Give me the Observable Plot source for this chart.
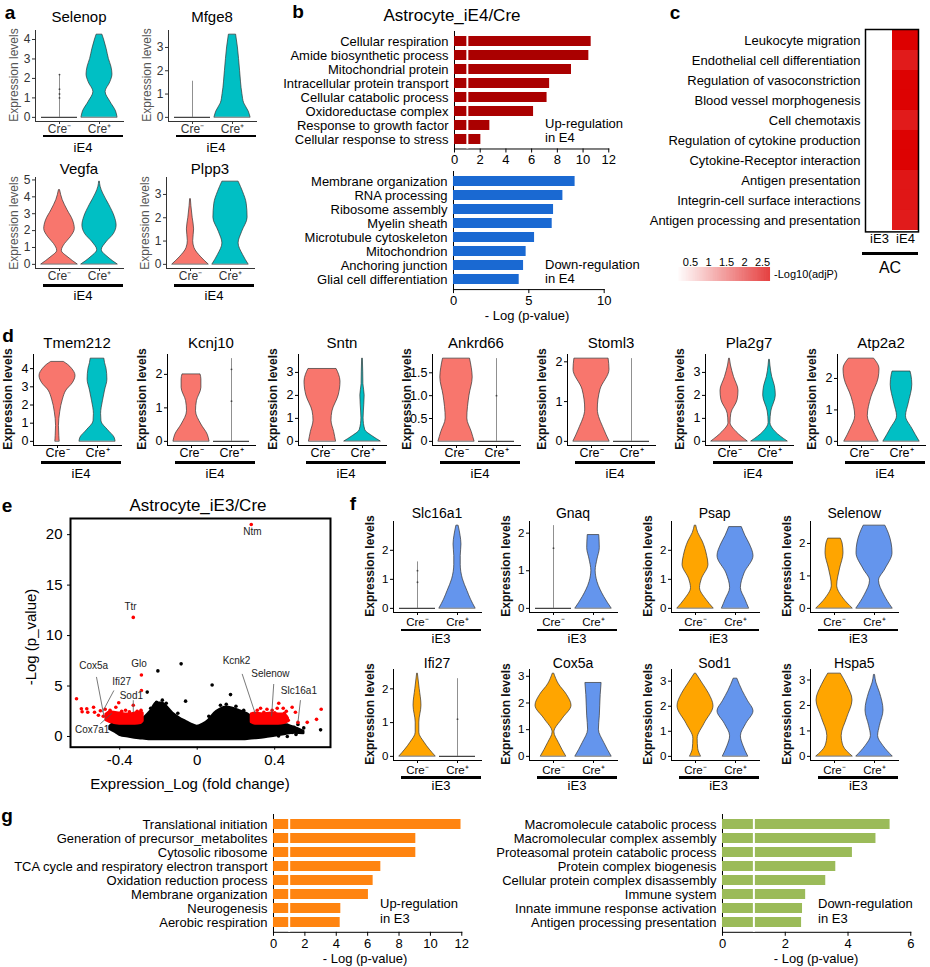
<!DOCTYPE html>
<html><head><meta charset="utf-8">
<script src="https://cdn.jsdelivr.net/npm/d3@7"></script>
<script src="https://cdn.jsdelivr.net/npm/@observablehq/plot@0.6"></script>
<style>
body{margin:0;background:#fff;}
#root{position:relative;width:930px;height:967px;overflow:hidden;font-family:"Liberation Sans",Arial,Helvetica,sans-serif;}
.t{position:absolute;white-space:pre;line-height:1;}
</style></head>
<body><div id="root"></div>
<script>
// ================= DATA =================
// Violin profiles: [expression level, relative half-width]; {top, dots} = all-zero group (line up to max)
const creTicks = ["Cre⁻", "Cre⁺"];
// panel a (iE4)
const Selenop_neg = {top: 2.2, dots: [1.0, 1.2, 1.45, 2.2]};
const Selenop_pos = [[0,1],[0.3,0.92],[0.8,0.6],[1.3,0.34],[1.8,0.6],[2.2,0.72],[2.6,0.66],[3.0,0.52],[3.5,0.4],[4.0,0.25],[4.25,0.16]];
const Mfge8_neg = {top: 1.55, dots: []};
const Mfge8_pos = [[0,1],[0.25,0.9],[0.6,0.65],[1.0,0.55],[2.0,0.42],[3.0,0.3],[3.55,0.2]];
const Vegfa_neg = [[0,1],[0.4,0.5],[0.8,0.13],[1.2,0.3],[1.6,0.62],[2.1,0.85],[2.6,0.75],[3.2,0.45],[3.8,0.18],[4.4,0.03]];
const Vegfa_pos = [[0,1],[0.4,0.5],[0.85,0.13],[1.3,0.38],[1.8,0.8],[2.3,0.95],[2.8,0.85],[3.5,0.55],[4.2,0.2],[4.6,0.06],[4.9,0.02]];
const Plpp3_neg = [[0,1],[0.3,0.6],[0.7,0.22],[1.0,0.15],[1.5,0.2],[2.0,0.12],[2.5,0.05],[2.8,0.02]];
const Plpp3_pos = [[0,1],[0.4,0.7],[0.9,0.45],[1.4,0.65],[2.0,0.95],[2.6,0.9],[3.1,0.7],[3.55,0.45]];
// panel d (iE4)
const Tmem212_neg = [[0,0.12],[0.3,0.1],[0.85,0.08],[1.6,0.15],[2.3,0.3],[2.8,0.5],[3.2,0.85],[3.6,1.0],[4.0,0.8],[4.2,0.6],[4.37,0.35]];
const Tmem212_pos = [[0,1],[0.2,0.95],[0.6,0.6],[1.1,0.22],[1.5,0.2],[2.2,0.3],[2.8,0.42],[3.4,0.55],[4.0,0.5],[4.3,0.42],[4.55,0.38]];
const Kcnj10_neg = [[0,1],[0.2,0.9],[0.5,0.55],[0.9,0.25],[1.2,0.3],[1.6,0.55],[1.85,0.55],[2.0,0.5]];
const Kcnj10_pos = {top: 2.47, dots: [1.2, 2.15]};
const Sntn_neg = [[0,0.75],[0.4,0.65],[0.9,0.5],[1.3,0.55],[2.0,0.9],[2.6,1.0],[2.9,0.92],[3.15,0.78]];
const Sntn_pos = [[0,1],[0.2,0.6],[0.5,0.15],[1.0,0.06],[1.6,0.1],[2.0,0.12],[2.5,0.05],[3.0,0.04],[3.6,0.02]];
const Ankrd66_neg = [[0,1],[0.2,0.85],[0.5,0.6],[1.0,0.72],[1.4,0.9],[1.6,0.85],[1.81,0.75]];
const Ankrd66_pos = {top: 1.81, dots: [1.0]};
const Stoml3_neg = [[0,1],[0.3,0.7],[0.8,0.35],[1.3,0.5],[1.8,1.0],[2.08,0.95]];
const Stoml3_pos = {top: 2.08, dots: []};
const Pla2g7_neg = [[0,1],[0.4,0.4],[0.8,0.06],[1.2,0.1],[1.8,0.45],[2.2,0.5],[2.8,0.25],[3.3,0.08],[3.6,0.02]];
const Pla2g7_pos = [[0,1],[0.4,0.35],[0.8,0.05],[1.3,0.1],[2.0,0.35],[2.4,0.3],[2.8,0.15],[3.3,0.05],[3.55,0.02]];
const Atp2a2_neg = [[0,0.95],[0.4,0.6],[0.8,0.35],[1.4,0.55],[2.0,0.95],[2.3,1.0],[2.63,0.7]];
const Atp2a2_pos = [[0,1],[0.4,0.6],[0.8,0.25],[1.2,0.4],[1.8,0.6],[2.1,0.55],[2.22,0.5]];
// panel f (iE3)
const Slc16a1_neg = {top: 1.6, dots: [0.9, 1.3]};
const Slc16a1_pos = [[0,1],[0.3,0.75],[0.6,0.55],[1.0,0.3],[1.5,0.18],[1.8,0.18],[2.2,0.22],[2.5,0.17],[2.85,0.06]];
const Gnaq_neg = {top: 2.2, dots: [1.6]};
const Gnaq_pos = [[0,1],[0.3,0.6],[0.7,0.22],[1.0,0.12],[1.3,0.22],[1.6,0.35],[1.95,0.32]];
const Psap_neg = [[0,1],[0.3,0.6],[0.7,0.25],[1.0,0.35],[1.5,0.72],[1.8,0.65],[2.3,0.4],[2.6,0.15],[2.85,0.04]];
const Psap_pos = [[0,0.75],[0.3,0.55],[0.7,0.3],[1.2,0.5],[1.8,1.0],[2.2,0.8],[2.5,0.55],[2.8,0.35]];
const Selenow_neg = [[0,1],[0.3,0.5],[0.7,0.15],[1.2,0.3],[1.7,0.5],[2.0,0.45],[2.15,0.35]];
const Selenow_pos = [[0,1],[0.4,0.55],[0.85,0.25],[1.2,0.6],[1.7,1.0],[2.0,0.95],[2.3,0.8],[2.55,0.6]];
const Ifi27_neg = [[0,1],[0.4,0.4],[0.7,0.1],[1.0,0.1],[1.5,0.22],[2.0,0.12],[2.45,0.02]];
const Ifi27_pos = {top: 2.3, dots: [1.1]};
const Cox5a_neg = [[0,0.7],[0.5,0.3],[0.9,0.05],[1.4,0.5],[1.9,1.0],[2.3,0.75],[2.7,0.3],[3.1,0.04]];
const Cox5a_pos = [[0,1],[0.5,0.6],[1.0,0.3],[1.5,0.35],[2.3,0.4],[2.75,0.45]];
const Sod1_neg = [[0,0.3],[0.3,0.15],[0.7,0.12],[1.3,0.5],[2.0,1.0],[2.5,0.75],[2.9,0.4],[3.3,0.04]];
const Sod1_pos = [[0,0.7],[0.4,0.45],[0.8,0.3],[1.3,0.6],[1.8,1.0],[2.2,0.7],[2.6,0.4],[3.1,0.1]];
const Hspa5_neg = [[0,1],[0.4,0.5],[0.8,0.4],[1.5,0.7],[2.2,1.0],[2.8,0.7],[3.25,0.35]];
const Hspa5_pos = [[0,1],[0.4,0.5],[0.8,0.2],[1.2,0.3],[1.8,0.5],[2.5,0.3],[2.9,0.1],[3.2,0.03]];

// panel b
const upE4Terms = ["Cellular respiration","Amide biosynthetic process","Mitochondrial protein","Intracellular protein transport","Cellular catabolic process","Oxidoreductase complex","Response to growth factor","Cellular response to stress"];
const upE4Vals = [10.63,10.45,9.1,7.4,7.2,6.15,2.75,2.05];
const downE4Terms = ["Membrane organization","RNA processing","Ribosome assembly","Myelin sheath","Microtubule cytoskeleton","Mitochondrion","Anchoring junction","Glial cell differentiation"];
const downE4Vals = [8.07,7.26,6.64,6.55,5.38,4.82,4.65,4.36];
// panel c
const heatTerms = ["Leukocyte migration","Endothelial cell differentiation","Regulation of vasoconstriction","Blood vessel morphogenesis","Cell chemotaxis","Regulation of cytokine production","Cytokine-Receptor interaction","Antigen presentation","Integrin-cell surface interactions","Antigen processing and presentation"];
const heatCols = ["iE3","iE4"];
const heatE3 = [0.05,0.08,0.05,0.06,0.08,0.05,0.06,0.1,0.08,0.1];
const heatE4 = [2.72,2.45,2.7,2.7,2.45,2.7,2.7,2.5,2.5,2.45];
const heatTicks = [0.5,1,1.5,2,2.5];
// panel e (volcano)
const volEnvX   = [-0.45,-0.42,-0.40,-0.35,-0.30,-0.27,-0.24,-0.21,-0.18,-0.15,-0.12,-0.09,-0.06,-0.03,0,0.03,0.06,0.09,0.12,0.15,0.18,0.21,0.24,0.27,0.30,0.35,0.40,0.45,0.50,0.55];
const volEnvTop = [1.0,1.3,1.3,1.3,1.4,1.9,2.5,3.3,3.3,2.8,2.2,1.8,1.5,1.2,1.0,1.2,1.6,2.3,2.7,2.9,2.8,2.6,2.4,2.1,1.3,1.3,1.3,1.2,0.9,0.5];
const volEnvBot = [0.7,0.4,0.15,-0.05,-0.2,-0.25,-0.3,-0.3,-0.3,-0.3,-0.3,-0.3,-0.3,-0.3,-0.3,-0.3,-0.3,-0.3,-0.3,-0.3,-0.3,-0.3,-0.3,-0.25,-0.2,-0.1,0.05,0.2,0.35,0.3];
const volRedLX   = [-0.47,-0.44,-0.40,-0.36,-0.32,-0.29,-0.28];
const volRedLBot = [1.6,1.35,1.25,1.25,1.25,1.3,1.5];
const volRedLTop = [2.2,2.4,2.3,2.2,2.3,2.4,2.3];
const volRedRX   = [0.28,0.30,0.34,0.38,0.42,0.45,0.47];
const volRedRBot = [1.4,1.25,1.25,1.25,1.25,1.3,1.5];
const volRedRTop = [2.2,2.3,2.2,2.3,2.2,2.2,1.8];
const volRedX = [-0.623,-0.598,-0.594,-0.57,-0.565,-0.535,-0.53,-0.51,-0.5,-0.485,-0.475,-0.46,-0.45,-0.44,-0.42,-0.405,-0.39,-0.37,-0.35,-0.33,-0.31,-0.29,-0.288,-0.288,-0.33,0.279,0.292,0.31,0.327,0.344,0.36,0.387,0.40,0.413,0.421,0.43,0.444,0.45,0.46,0.47,0.49,0.507,0.52,0.568,0.616,0.64];
const volRedY = [3.74,2.75,2.45,2.75,2.4,2.9,2.4,2.1,2.55,2.0,2.7,2.35,2.6,2.0,2.9,3.35,2.5,2.6,2.45,3.1,2.5,2.6,4.56,6.1,11.8,21.0,2.25,2.6,2.8,2.4,2.7,2.6,2.35,2.8,3.3,2.0,2.8,2.3,2.5,1.6,2.9,2.4,1.4,1.4,1.7,2.7];
const volBlackX = [-0.083,-0.203,0.077,-0.258,-0.06,0.172,-0.21,-0.18,-0.16,0.12,0.15,0.2,0.465,0.5,0.52,0.55,0.637,0.465,0.49,0.51,0.42,-0.44,-0.43,-0.24,-0.1,0.06,0.24];
const volBlackY = [7.2,6.5,5.1,4.4,3.5,4.15,3.4,3.6,3.3,3.1,3.2,3.0,1.1,0.9,1.2,0.85,0.66,0.0,0.4,0.2,0.05,1.1,0.8,2.8,2.3,2.0,2.6];
const volLabels = ["Ntm","Ttr","Glo","Cox5a","Ifi27","Sod1","Cox7a1","Kcnk2","Selenow","Slc16a1"];
const volLabelX = [0.285,-0.344,-0.30,-0.534,-0.39,-0.34,-0.542,0.203,0.378,0.525];
const volLabelY = [20.3,12.9,7.2,7.0,5.4,4.07,0.66,7.5,6.2,4.56];
const volLinkX1 = [-0.52,-0.43,-0.33,-0.50,0.232,0.395,0.533];
const volLinkY1 = [5.9,4.56,3.6,1.26,6.2,5.2,3.6];
const volLinkX2 = [-0.48,-0.49,-0.33,-0.44,0.30,0.384,0.52];
const volLinkY2 = [1.9,2.4,2.4,2.3,2.25,2.0,1.4];
const volXTicks = [-0.4,0,0.4];
const volYTicks = [0,5,10,15,20];
// panel g
const upE3Terms = ["Translational initiation","Generation of precursor_metabolites","Cytosolic ribosome","TCA cycle and respiratory electron transport","Oxidation reduction process","Membrane organization","Neurogenesis","Aerobic respiration"];
const upE3Vals = [11.95,9.07,9.07,6.84,6.35,6.05,4.29,4.25];
const downE3Terms = ["Macromolecule catabolic process","Macromolecular complex assembly","Proteasomal protein catabolic process","Protein complex biogenesis","Cellular protein complex disassembly","Immune system","Innate immune response activation","Antigen processing presentation"];
const downE3Vals = [5.34,4.89,4.14,3.61,3.29,2.65,2.55,2.52];

// ================= HELPERS =================
const FONT = '"Liberation Sans", Arial, Helvetica, sans-serif';
const SALMON = "#F8766D", TEAL = "#00BFC4", ORANGE = "#FFA500", CBLUE = "#6495ED";
const root = document.getElementById("root");
function put(svg, left, top) {
  svg.style.position = "absolute"; svg.style.left = left + "px"; svg.style.top = top + "px";
  root.appendChild(svg);
}
function txt(s, x, y, o = {}) {
  const d = document.createElement("div");
  d.className = "t"; d.textContent = s;
  d.style.fontSize = (o.size || 12) + "px";
  if (o.weight) d.style.fontWeight = o.weight;
  d.style.color = o.color || "#000";
  const ax = o.anchor === "start" ? "0%" : o.anchor === "end" ? "-100%" : "-50%";
  d.style.left = x + "px"; d.style.top = y + "px";
  d.style.transform = `translate(${ax},-50%)` + (o.rotate ? ` rotate(${o.rotate}deg)` : "");
  root.appendChild(d);
}
function hline(x1, x2, y, w) {
  const d = document.createElement("div");
  d.style.cssText = `position:absolute;left:${x1}px;top:${y - w / 2}px;width:${x2 - x1}px;height:${w}px;background:#000`;
  root.appendChild(d);
}
const baseStyle = (size, color) => ({fontFamily: FONT, fontSize: size + "px", color: color || "#000", background: "transparent", overflow: "visible"});

// ---------- violin ----------
const VW = 88, VH = 91;
const isFlat = p => !Array.isArray(p);
const topOf = p => isFlat(p) ? p.top : p[p.length - 1][0];
function violin(gene, neg, pos, ticks, c, fmt) {
  const max = Math.max(topOf(neg), topOf(pos));
  const bottomPx = c.zeroY + VH * 0.05 / 1.1;
  const topPx = bottomPx - VH;
  const ML = 24, MR = 4, MT = 4, MB = 26;
  const marks = [];
  [[neg, 1, c.cols[0]], [pos, 2, c.cols[1]]].forEach(([p, cx, col]) => {
    if (isFlat(p)) {
      marks.push(Plot.ruleX([cx], {x: () => cx, y1: () => 0, y2: () => p.top, stroke: "#444", strokeWidth: 0.6}));
      if (p.dots.length) marks.push(Plot.dot(p.dots, {x: () => cx, y: d => d, r: 0.9, fill: "#444"}));
      marks.push(Plot.ruleY([0], {y: () => 0, x1: () => cx - 0.45, x2: () => cx + 0.45, stroke: "#444", strokeWidth: 1.3}));
    } else {
      marks.push(Plot.areaX(p, {y: d => d[0], x1: d => cx - 0.45 * d[1], x2: d => cx + 0.45 * d[1],
        fill: col, stroke: "#333", strokeWidth: 0.7, curve: "monotone-y"}));
    }
  });
  const svg = Plot.plot({
    width: ML + VW + MR, height: MT + VH + MB,
    marginLeft: ML, marginRight: MR, marginTop: MT, marginBottom: MB,
    style: baseStyle(c.tickSize, c.tickColor),
    x: {domain: [0.4, 2.6], ticks: [1, 2], tickFormat: d => creTicks[d - 1], tickSize: 3, tickPadding: c.xPad, line: true, label: null},
    y: {domain: [-0.05 * max, 1.05 * max], ticks, tickFormat: fmt || (d => String(d)), tickSize: 3, tickPadding: 2, line: true, label: null},
    marks
  });
  put(svg, c.axisX - ML, topPx - MT);
  txt(gene, c.axisX + VW / 2, c.titleY, {size: c.titleSize});
  txt("Expression levels", c.axisX - c.ylOff, (topPx + bottomPx) / 2, {rotate: -90, size: 12, weight: c.ylWeight, color: c.ylColor});
  hline(c.axisX + 8, c.axisX + VW, c.ulY, 2.5);
  txt(c.grp, c.axisX + 8 + (VW - 8) / 2, c.grpY, {size: 13});
}

// ---------- bars ----------
function bars(terms, vals, color, o) {
  const data = terms.map((t, i) => ({term: t, v: vals[i]}));
  const W = o.x1 - o.x0, H = o.bottom - o.top;
  const ML = o.ml, MR = 12, MT = 2, MB = 28;
  const marks = [Plot.barX(data, {y: "term", x: "v", fill: color})];
  if (o.thresh != null) marks.push(Plot.ruleX([o.thresh], {stroke: "white", strokeWidth: 2}));
  const svg = Plot.plot({
    width: ML + W + MR, height: MT + H + MB,
    marginLeft: ML, marginRight: MR, marginTop: MT, marginBottom: MB,
    style: baseStyle(13),
    x: {domain: [0, o.max], ticks: o.ticks, tickFormat: d => String(d), tickSize: 4, tickPadding: 2, line: true, label: null},
    y: {domain: terms, padding: 0.26, tickSize: 0, tickPadding: 6, line: true, label: null},
    marks
  });
  put(svg, o.x0 - ML, o.top - MT);
}

// ================= PANEL LETTERS =================
[["a",10,12],["b",298,11],["c",675,12],["d",8,335],["e",7,505],["f",353,503],["g",7,815]]
  .forEach(([s,x,y]) => txt(s, x, y, {size: 19, weight: "bold"}));

// ================= PANEL a =================
const cfgA = {cols: [SALMON, TEAL], tickSize: 12, tickColor: "#333", xPad: 0, titleSize: 15, ylOff: 21, ylWeight: "normal", ylColor: "#555", grp: "iE4"};
violin("Selenop", Selenop_neg, Selenop_pos, [0,1,2,3,4], {...cfgA, axisX: 35, zeroY: 116.7, titleY: 16, ulY: 136, grpY: 146.7});
violin("Mfge8", Mfge8_neg, Mfge8_pos, [0,1,2,3], {...cfgA, axisX: 168, zeroY: 116.7, titleY: 16, ulY: 136, grpY: 146.7});
violin("Vegfa", Vegfa_neg, Vegfa_pos, [0,1,2,3,4,5], {...cfgA, axisX: 35, zeroY: 264, titleY: 168.3, ulY: 285.7, grpY: 295});
violin("Plpp3", Plpp3_neg, Plpp3_pos, [0,1,2,3], {...cfgA, axisX: 166, zeroY: 264, titleY: 168.3, ulY: 285.7, grpY: 295});

// ================= PANEL b =================
txt("Astrocyte_iE4/Cre", 452, 15, {size: 17});
bars(upE4Terms, upE4Vals, "#AA0000", {x0: 454, x1: 608.3, top: 31, bottom: 148.5, ml: 200, max: 12, ticks: [0,2,4,6,8,10,12], thresh: 1});
bars(downE4Terms, downE4Vals, "#1A69D2", {x0: 453.3, x1: 604, top: 170.9, bottom: 289, ml: 200, max: 10, ticks: [0,5,10]});
txt("Up-regulation", 545, 123, {size: 13, anchor: "start"});
txt("in E4", 545, 137, {size: 13, anchor: "start"});
txt("Down-regulation", 545, 264, {size: 13, anchor: "start"});
txt("in E4", 545, 278, {size: 13, anchor: "start"});
txt("- Log (p-value)", 527, 315, {size: 13});

// ================= PANEL c =================
const heatColor = {type: "linear", domain: [0.14, 2.72], range: ["#ffffff", "#dd0000"], clamp: true};
{
  const hData = heatTerms.flatMap((t, i) => [{t, c: heatCols[0], v: heatE3[i]}, {t, c: heatCols[1], v: heatE4[i]}]);
  const ML = 245, MT = 2, MB = 22, MR = 4, W = 53, H = 202.4;
  const svg = Plot.plot({
    width: ML + W + MR, height: MT + H + MB, marginLeft: ML, marginRight: MR, marginTop: MT, marginBottom: MB,
    style: baseStyle(13),
    x: {domain: heatCols, padding: 0, tickSize: 0, tickPadding: 2, label: null},
    y: {domain: heatTerms, padding: 0, tickSize: 0, tickPadding: 5, label: null},
    color: heatColor,
    marks: [Plot.cell(hData, {x: "c", y: "t", fill: "v"}), Plot.frame({stroke: "black", strokeWidth: 1.5})]
  });
  put(svg, 865 - ML, 29.3 - MT);
  hline(862, 918, 253, 3);
  txt("AC", 890, 268, {size: 16});
  // colour bar
  const steps = d3.range(0.14, 2.72, 0.01);
  const cb = Plot.plot({
    width: 97, height: 32, marginLeft: 2, marginRight: 2, marginTop: 16, marginBottom: 2,
    style: baseStyle(11),
    x: {domain: [0.14, 2.72], axis: "top", ticks: heatTicks, tickFormat: d => String(d), tickSize: 0, tickPadding: 2, label: null},
    color: heatColor,
    marks: [Plot.barX(steps, {x1: d => d, x2: d => d + 0.011, fill: d => d})]
  });
  put(cb, 675, 251);
  txt("-Log10(adjP)", 774, 274, {size: 11, anchor: "start"});
}

// ================= PANEL d =================
const cfgD = {cols: [SALMON, TEAL], tickSize: 12.5, tickColor: "#000", xPad: 0, titleSize: 15, ylOff: 25, ylWeight: "bold", ylColor: "#111", grp: "iE4", zeroY: 440.7, titleY: 341.7, ulY: 462.3, grpY: 473};
violin("Tmem212", Tmem212_neg, Tmem212_pos, [0,1,2,3,4], {...cfgD, axisX: 33});
violin("Kcnj10", Kcnj10_neg, Kcnj10_pos, [0,1,2], {...cfgD, axisX: 167});
violin("Sntn", Sntn_neg, Sntn_pos, [0,1,2,3], {...cfgD, axisX: 298});
violin("Ankrd66", Ankrd66_neg, Ankrd66_pos, [0,0.5,1,1.5], {...cfgD, axisX: 432}, d => d === 0 ? "0" : d.toFixed(1));
violin("Stoml3", Stoml3_neg, Stoml3_pos, [0,1,2], {...cfgD, axisX: 567});
violin("Pla2g7", Pla2g7_neg, Pla2g7_pos, [0,1,2,3], {...cfgD, axisX: 705});
violin("Atp2a2", Atp2a2_neg, Atp2a2_pos, [0,1,2], {...cfgD, axisX: 837});

// ================= PANEL e =================
{
  const env = volEnvX.map((x, i) => ({x, y1: volEnvBot[i], y2: volEnvTop[i]}));
  const redL = volRedLX.map((x, i) => ({x, y1: volRedLBot[i], y2: volRedLTop[i]}));
  const redR = volRedRX.map((x, i) => ({x, y1: volRedRBot[i], y2: volRedRTop[i]}));
  const red = volRedX.map((x, i) => ({x, y: volRedY[i]}));
  const blk = volBlackX.map((x, i) => ({x, y: volBlackY[i]}));
  const labs = volLabels.map((s, i) => ({s, x: volLabelX[i], y: volLabelY[i]}));
  const links = volLinkX1.map((x, i) => ({x1: x, y1: volLinkY1[i], x2: volLinkX2[i], y2: volLinkY2[i]}));
  const ML = 45, MR = 4, MT = 2, MB = 24, W = 260, H = 228.7;
  const svg = Plot.plot({
    width: ML + W + MR, height: MT + H + MB, marginLeft: ML, marginRight: MR, marginTop: MT, marginBottom: MB,
    style: baseStyle(15),
    x: {domain: [-0.654, 0.688], ticks: volXTicks, tickFormat: d => d === 0 ? "0" : d.toFixed(1), tickSize: 3, tickPadding: 4, label: null},
    y: {domain: [-1.06, 21.6], ticks: volYTicks, tickFormat: d => String(d), tickSize: 3, tickPadding: 5, label: null},
    marks: [
      Plot.areaY(env, {x: "x", y1: "y1", y2: "y2", fill: "black", stroke: "black", strokeWidth: 2.5, curve: "monotone-x"}),
      Plot.areaY(redL, {x: "x", y1: "y1", y2: "y2", fill: "red", stroke: "red", strokeWidth: 2.5, curve: "monotone-x"}),
      Plot.areaY(redR, {x: "x", y1: "y1", y2: "y2", fill: "red", stroke: "red", strokeWidth: 2.5, curve: "monotone-x"}),
      Plot.dot(blk, {x: "x", y: "y", r: 1.8, fill: "black"}),
      Plot.dot(red, {x: "x", y: "y", r: 1.8, fill: "red"}),
      Plot.link(links, {x1: "x1", y1: "y1", x2: "x2", y2: "y2", stroke: "#555", strokeWidth: 0.8}),
      Plot.text(labs, {x: "x", y: "y", text: "s", fontSize: 10, fill: "#222", stroke: "white", strokeWidth: 0.5}),
      Plot.frame({stroke: "black", strokeWidth: 2})
    ]
  });
  put(svg, 70 - ML, 518 - MT);
  txt("Astrocyte_iE3/Cre", 198, 505, {size: 17});
  txt("-Log (p_value)", 30, 637, {size: 15, rotate: -90});
  txt("Expression_Log (fold change)", 190, 783, {size: 15});
}

// ================= PANEL f =================
const cfgF = {cols: [ORANGE, CBLUE], tickSize: 11.5, tickColor: "#000", xPad: 2, titleSize: 14, ylOff: 23, ylWeight: "bold", ylColor: "#111", grp: "iE3"};
const fRow1 = {zeroY: 607.7, titleY: 513, ulY: 630, grpY: 637.5};
const fRow2 = {zeroY: 755.7, titleY: 663.3, ulY: 777.7, grpY: 785};
violin("Slc16a1", Slc16a1_neg, Slc16a1_pos, [0,1,2], {...cfgF, ...fRow1, axisX: 393});
violin("Gnaq", Gnaq_neg, Gnaq_pos, [0,1,2], {...cfgF, ...fRow1, axisX: 529});
violin("Psap", Psap_neg, Psap_pos, [0,1,2], {...cfgF, ...fRow1, axisX: 670.6});
violin("Selenow", Selenow_neg, Selenow_pos, [0,1,2], {...cfgF, ...fRow1, axisX: 810.3});
violin("Ifi27", Ifi27_neg, Ifi27_pos, [0,1,2], {...cfgF, ...fRow2, axisX: 393});
violin("Cox5a", Cox5a_neg, Cox5a_pos, [0,1,2,3], {...cfgF, ...fRow2, axisX: 529});
violin("Sod1", Sod1_neg, Sod1_pos, [0,1,2,3], {...cfgF, ...fRow2, axisX: 670.6});
violin("Hspa5", Hspa5_neg, Hspa5_pos, [0,1,2,3], {...cfgF, ...fRow2, axisX: 810.3});

// ================= PANEL g =================
bars(upE3Terms, upE3Vals, "#FF8410", {x0: 272.7, x1: 461, top: 813.6, bottom: 931.4, ml: 270, max: 12, ticks: [0,2,4,6,8,10,12], thresh: 1});
bars(downE3Terms, downE3Vals, "#9BBB59", {x0: 721.7, x1: 910, top: 813.6, bottom: 931.4, ml: 260, max: 6, ticks: [0,2,4,6], thresh: 1});
txt("Up-regulation", 380, 903, {size: 13, anchor: "start"});
txt("in E3", 380, 918, {size: 13, anchor: "start"});
txt("Down-regulation", 818, 903, {size: 13, anchor: "start"});
txt("in E3", 818, 918, {size: 13, anchor: "start"});
txt("- Log (p-value)", 365, 958, {size: 13});
txt("- Log (p-value)", 816, 958, {size: 13});
</script>
</body></html>
